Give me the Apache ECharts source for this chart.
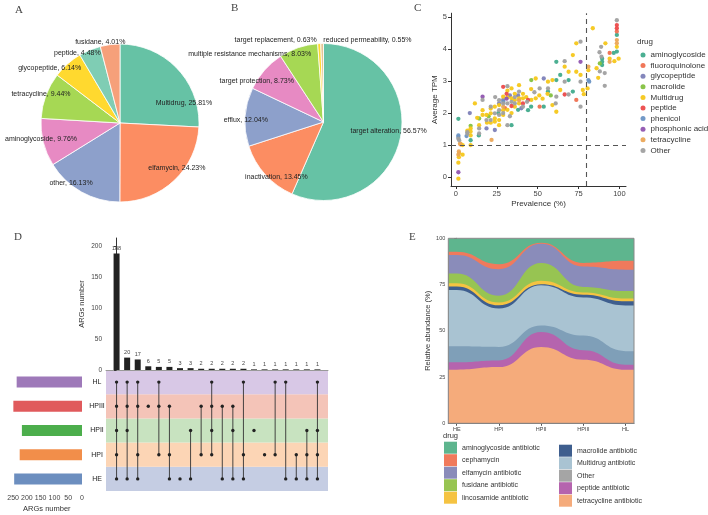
<!DOCTYPE html>
<html><head><meta charset="utf-8">
<script src="https://cdn.jsdelivr.net/npm/echarts@6/dist/echarts.min.js"></script>
<style>html,body{margin:0;padding:0;background:#fff}#c{width:708px;height:515px}</style>
</head><body><div id="c"></div>
<script>
// ---------- Panel A ----------
const pieACats = ['Multidrug','elfamycin','other','aminoglycoside','tetracycline','glycopeptide','peptide','fusidane'];
const pieAValues = [25.81,24.23,16.13,9.76,9.44,6.14,4.48,4.01];
// ---------- Panel B ----------
const pieBCats = ['target alteration','inactivation','efflux','target protection','multiple resistance mechanisms','target replacement','reduced permeability'];
const pieBValues = [56.57,13.45,12.04,8.73,8.03,0.63,0.55];
// ---------- Panel C (prevalence %, average TPM) ----------
const drugCats = ['aminoglycoside','fluoroquinolone','glycopeptide','macrolide','Multidrug','peptide','phenicol','phosphonic acid','tetracycline','Other'];
const aminoglycosidePts = [[1.5,1.82],[9,1.15],[14,1.3],[34,1.62],[44.1,2.09],[53.7,2.2],[56.3,2.67],[61.4,3.6],[61.4,3.03],[63.8,3.19],[68.9,3.03],[71.5,2.67],[89.4,3.7],[89.4,3.6],[89.4,3.5],[96.5,3.88],[98.4,4.44],[98.4,3.92],[46,2.2],[26,2.0],[38,2.1]];
const fluoroquinolonePts = [[2.8,1.02],[51.2,2.2],[73.6,2.41],[94,3.88],[98.4,4.55],[30,2.15]];
const glycopeptidePts = [[8.5,2.0],[18.7,1.52],[23.8,1.47],[28.9,2.41],[53.7,3.08],[26.4,2.3],[33,2.55],[40,2.15],[38,2.55]];
const macrolidePts = [[9,1.6],[14.2,1.83],[46.1,3.03],[58,2.55],[20,1.9],[88,3.55]];
const multidrugPts = [[1.5,-0.05],[1.5,0.45],[1.8,0.62],[2,0.75],[3,1.03],[4.1,1.0],[4.1,0.7],[9,1.0],[9,1.3],[9,1.42],[9,1.52],[11.6,2.3],[14.2,1.62],[16.3,2.09],[16.3,1.94],[18.7,1.94],[21.3,2.14],[21.3,1.99],[21.3,1.7],[23.8,2.2],[23.8,1.83],[23.8,1.73],[26.4,2.25],[26.4,1.78],[26.4,1.62],[28.9,2.51],[28.9,2.09],[28.9,1.94],[31.5,2.49],[31.5,2.1],[34,2.77],[34,2.46],[34,2.0],[36,2.41],[36,2.2],[36,2.6],[38.6,2.87],[38.6,2.46],[38.6,2.3],[41,2.46],[41,2.6],[43,2.5],[46.1,2.41],[48.8,3.08],[48.8,2.46],[51,2.55],[56.3,2.98],[59,3.03],[59,2.25],[61.4,2.04],[63.8,2.72],[66.5,3.45],[68.9,3.29],[71.5,3.81],[73.6,4.18],[73.6,3.29],[76.2,3.19],[77.6,2.72],[78.2,2.59],[80.5,2.77],[81,3.34],[83.7,4.65],[86,3.4],[87,3.1],[91.4,4.18],[94,3.7],[96.9,3.62],[98.4,4.07],[99.5,3.7],[56,2.6],[46,2.75],[53,2.45],[31.5,2.7],[19,1.7],[13,1.85],[7,1.45]];
const peptidePts = [[28.9,2.82],[34,2.22],[41,2.3],[44.1,2.41],[66.5,2.58],[98.4,4.75],[98.4,4.65],[31,2.6]];
const phenicolPts = [[1.5,1.25],[1.5,1.3],[6.5,1.28],[81,3.03],[81.5,2.98],[29,2.35]];
const phosphonicPts = [[1.5,0.15],[16.3,2.51],[76.2,3.6],[31,2.45]];
const tetracyclinePts = [[1.8,0.8],[2.5,1.05],[1.5,0.7],[21.8,1.16],[81,3.45],[98.4,4.28],[98.4,4.18],[28.9,2.2],[38.6,2.4],[94,3.6]];
const otherPts = [[1.5,1.2],[2,1.15],[7,1.35],[7,1.4],[14.2,1.52],[14.2,1.36],[16.3,2.41],[18.7,1.78],[21.3,1.78],[23.8,1.99],[26.4,2.09],[26.4,1.94],[28.9,2.3],[31.5,2.84],[31.5,2.3],[31.5,1.62],[34,2.35],[36,2.3],[38.6,2.67],[41,2.2],[43.5,2.35],[51.2,2.77],[56.3,2.77],[61.4,2.51],[66.5,3.62],[66.5,2.98],[68.9,2.58],[76.2,4.23],[76.2,2.98],[76.2,2.2],[88.8,4.07],[87.8,3.9],[89,3.76],[88,3.3],[91,3.25],[91,2.85],[98.4,4.9],[26.4,2.4],[36,2.5],[48,2.65],[28.9,2.0],[21.3,2.2],[33,1.9],[24,2.5],[61,2.3]];
const prevTicks = [0,25,50,75,100];
const tpmTicks = [0,1,2,3,4,5];
const prevCut = 80, tpmCut = 1;
// ---------- Panel D ----------
const setNames = ['HE','HPI','HPII','HPIII','HL'];
const setSizes = [246,226,218,249,237];
const interSizes = [188,20,17,6,5,5,3,3,2,2,2,2,2,1,1,1,1,1,1,1];
const interMembers = [
 ['HL','HPIII','HPII','HPI','HE'],['HL','HPIII','HPII','HE'],['HL','HPIII','HPI','HE'],['HPIII'],
 ['HL','HPIII','HPI'],['HPIII','HPI','HE'],['HE'],['HPII','HE'],['HPIII','HPI'],['HL','HPIII','HPII','HPI'],
 ['HPIII','HE'],['HPIII','HPII','HE'],['HL','HPI','HE'],['HPII'],['HPI'],['HL','HPI'],['HL','HE'],
 ['HPI','HE'],['HPII','HPI','HE'],['HL','HPII','HPI','HE']];
const interTicks = [0,50,100,150,200];
const setTicks = [0,50,100,150,200,250];
// ---------- Panel E (relative abundance %, HE..HL) ----------
const stageCats = ['HE','HPI','HPII','HPIII','HL'];
const tetracyclineAb = [29,30.4,41.3,34.4,29];
const peptideAb = [4,3.6,8,5.1,2.7];
const otherAb = [8.6,7.3,3.6,7.9,7.3];
const multidrugAb = [30.4,20.7,21.7,20.6,24.7];
const macrolideAb = [2,1.8,0.5,1.5,2.3];
const lincosamideAb = [1.7,1.5,1.9,1.2,1.4];
const fusidaneAb = [5.3,3.7,9.6,3,4.1];
const elfamycinAb = [10,14.3,10.4,11,11.5];
const cephamycinAb = [1.7,2.7,0.6,2,4.8];
const aminoglycosideAb = [7.3,14,2.4,13.3,12.2];
const abTicks = [0,25,50,75,100];

// ================= styling =================
const FONT = '"Liberation Sans", Arial, sans-serif';
const chart = echarts.init(document.getElementById('c'), null, {renderer:'canvas', width:708, height:515});
const colA = ['#66c2a5','#fc8d62','#8da0cb','#e78ac3','#a6d854','#ffd92f','#7fcdb4','#f6a07a'];
const colB = ['#66c2a5','#fc8d62','#8da0cb','#e78ac3','#a6d854','#ffd92f','#e5c494'];
const labOffA = [[0.81,-0.25],[0.72,0.57],[-0.62,0.76],[-1.0,0.2],[-1.0,-0.37],[-0.89,-0.70],[-0.54,-0.89],[-0.25,-1.03]];
const labOffB = [[0.83,0.11],[-0.6,0.7],[-0.99,-0.03],[-0.85,-0.52],[-0.94,-0.87],[-0.61,-1.04],[0.56,-1.04]];
const pA = {cx:120, cy:123, r:79};
const pB = {cx:323.5, cy:122, r:78.5};
const drugColors = ['#41ab8c','#ef7050','#7d81b8','#84c140','#f6c71a','#ec4a4a','#6a94c4','#9055b0','#eba657','#a0a0a0'];
const drugPts = [aminoglycosidePts,fluoroquinolonePts,glycopeptidePts,macrolidePts,multidrugPts,peptidePts,phenicolPts,phosphonicPts,tetracyclinePts,otherPts];
const setBarColors = ['#6c8ebf','#f28e4a','#4cae4c','#e05a5c','#9e79b9'];
const bandColors = ['#c5cde3','#fcd5b5','#c8e3c0','#f4c4b8','#d8c8e6'];
const abNames = ['tetracycline antibiotic','peptide antibiotic','Other','Multidrug antibiotic','macrolide antibiotic','lincosamide antibiotic','fusidane antibiotic','elfamycin antibiotic','cephamycin','aminoglycoside antibiotic'];
const abData = [tetracyclineAb,peptideAb,otherAb,multidrugAb,macrolideAb,lincosamideAb,fusidaneAb,elfamycinAb,cephamycinAb,aminoglycosideAb];
const abColors = ['#f5ab7b','#b564ae','#7f9fb8','#a9c3d2','#3e5e8e','#f5c342','#97c452','#8a8cba','#f07a5c','#5eb58e'];

function pieSeries(cats, vals, cols, p, offs){
  return {
    type:'pie', center:[p.cx,p.cy], radius:[0,p.r], startAngle:90, clockwise:true,
    avoidLabelOverlap:false, silent:true,
    data: cats.map((n,i)=>({name:n, value:vals[i], itemStyle:{color:cols[i]}})),
    itemStyle:{borderColor:'#fff', borderWidth:0.8},
    label:{show:true, position:'inside', formatter:'{b}, {c}%', fontSize:7, color:'#222', fontFamily:FONT},
    labelLine:{show:false},
    labelLayout:function(params){
      const o = offs[params.dataIndex];
      return {x:p.cx+o[0]*p.r, y:p.cy+o[1]*p.r, align:'center', verticalAlign:'middle'};
    }
  };
}

const axisTxt = {fontSize:7, color:'#444', fontFamily:FONT};
const series = [];
series.push(pieSeries(pieACats,pieAValues,colA,pA,labOffA));
series.push(pieSeries(pieBCats,pieBValues,colB,pB,labOffB));
drugCats.forEach((d,i)=>{
  const s = {type:'scatter', name:d, xAxisIndex:0, yAxisIndex:0, symbolSize:4.3, data:drugPts[i], itemStyle:{color:drugColors[i], opacity:0.95}, silent:true, z:3};
  if(i===0){
    s.markLine = {silent:true, symbol:'none', label:{show:false}, lineStyle:{type:[5,4], color:'#555', width:1.1},
      data:[{xAxis:prevCut},{yAxis:tpmCut}]};
  }
  series.push(s);
});
// Panel D: intersection bars
series.push({type:'bar', xAxisIndex:1, yAxisIndex:1, barWidth:6, silent:true,
  data: interSizes.map((v,i)=>[i,v]), itemStyle:{color:'#222'},
  label:{show:true, position:'top', distance:2, fontSize:5.5, color:'#444', fontFamily:FONT, formatter:p=>p.value[1]}});
// matrix
series.push({type:'custom', xAxisIndex:2, yAxisIndex:2, silent:true,
  data: interSizes.map((v,i)=>[i, 0]),
  renderItem:function(params, api){
    const i = api.value(0);
    const rows = interMembers[i].map(n=>setNames.indexOf(n));
    const lo = Math.min(...rows), hi = Math.max(...rows);
    const a = api.coord([i, lo]), b = api.coord([i, hi]);
    const ch = [{type:'line', shape:{x1:a[0],y1:a[1],x2:b[0],y2:b[1]}, style:{stroke:'#333', lineWidth:0.9}}];
    rows.forEach(r=>{const p = api.coord([i,r]); ch.push({type:'circle', shape:{cx:p[0],cy:p[1],r:1.7}, style:{fill:'#222'}});});
    return {type:'group', children:ch};
  }});
// set sizes
series.push({type:'bar', xAxisIndex:3, yAxisIndex:3, barWidth:11, silent:true,
  data: setSizes.map((v,i)=>({value:v, itemStyle:{color:setBarColors[i]}}))});
// Panel E stacked areas: cumulative tops, drawn from the top layer down so lower layers paint over
const cum = [];
abData.forEach((v,k)=>{ cum.push(v.map((y,i)=> y + (k ? cum[k-1][i] : 0))); });
for(let k=abNames.length-1;k>=0;k--){
  const v = cum[k];
  const d = [[-0.2, v[0]]].concat(v.map((y,i)=>[i,y])).concat([[4.2, v[4]]]);
  series.push({type:'line', name:abNames[k], xAxisIndex:4, yAxisIndex:4, smooth:0.5, smoothMonotone:'x', symbol:'none', silent:true,
    data:d, color:abColors[k], lineStyle:{width:0}, areaStyle:{color:abColors[k], opacity:1, origin:'start'}, z:2});
}

const option = {
  animation:false,
  textStyle:{fontFamily:FONT},
  grid:[
    {left:451, top:13.2, width:175, height:172.8},
    {left:106, top:238, width:222, height:132},
    {left:106, top:370, width:222, height:121},
    {left:11.7, top:370, width:70.3, height:121},
    {left:448.3, top:238.3, width:185.7, height:185, show:true, borderColor:'#888', borderWidth:1, backgroundColor:'transparent', z:5}
  ],
  xAxis:[
    {gridIndex:0, type:'value', min:-3, max:104, splitLine:{show:false},
      axisLine:{onZero:false, lineStyle:{color:'#333'}}, axisTick:{customValues:prevTicks, length:3, lineStyle:{color:'#333'}},
      axisLabel:Object.assign({customValues:prevTicks, margin:4}, axisTxt, {fontSize:7.5}),
      name:'Prevalence (%)', nameLocation:'middle', nameGap:14, nameTextStyle:{fontSize:8, color:'#333'}},
    {gridIndex:1, type:'value', min:-1, max:20, splitLine:{show:false}, axisLine:{onZero:false, lineStyle:{color:'#999'}},
      axisTick:{show:false}, axisLabel:{show:false}},
    {gridIndex:2, type:'value', min:-1, max:20, show:false, splitLine:{show:false}},
    {gridIndex:3, type:'value', inverse:true, min:0, max:255, splitLine:{show:false},
      axisLine:{onZero:false, lineStyle:{color:'#555'}}, axisTick:{customValues:setTicks, length:2.5, lineStyle:{color:'#555'}},
      axisLabel:Object.assign({customValues:setTicks, margin:4}, axisTxt),
      name:'ARGs number', nameLocation:'middle', nameGap:14, nameTextStyle:{fontSize:7.5, color:'#333'}},
    {gridIndex:4, type:'value', min:-0.2, max:4.2, splitLine:{show:false},
      axisLine:{onZero:false, lineStyle:{color:'#555'}}, axisTick:{customValues:[0,1,2,3,4], length:2.5, lineStyle:{color:'#555'}},
      axisLabel:Object.assign({customValues:[0,1,2,3,4], margin:3, formatter:v=>stageCats[Math.round(v)]}, axisTxt, {fontSize:5.5})}
  ],
  yAxis:[
    {gridIndex:0, type:'value', min:-0.28, max:5.12, splitLine:{show:false},
      axisLine:{onZero:false, lineStyle:{color:'#333'}}, axisTick:{customValues:tpmTicks, length:3, lineStyle:{color:'#333'}},
      axisLabel:Object.assign({customValues:tpmTicks, margin:4}, axisTxt, {fontSize:7.5}),
      name:'Average TPM', nameLocation:'middle', nameGap:12, nameTextStyle:{fontSize:8, color:'#333'}},
    {gridIndex:1, type:'value', min:0, max:213, splitLine:{show:false},
      axisLine:{show:true, lineStyle:{color:'#333'}}, axisTick:{show:true, customValues:interTicks, length:2.5, lineStyle:{color:'#333'}},
      axisLabel:Object.assign({customValues:interTicks, margin:4}, axisTxt, {fontSize:6.5}),
      name:'ARGs number', nameLocation:'middle', nameGap:20, nameTextStyle:{fontSize:7.5, color:'#333'}},
    {gridIndex:2, type:'category', data:setNames, axisLine:{show:false}, axisTick:{show:false},
      splitArea:{show:true, areaStyle:{color:bandColors}}, splitLine:{show:false},
      axisLabel:{fontSize:7, color:'#222', align:'center', margin:9, fontFamily:FONT}},
    {gridIndex:3, type:'category', data:setNames, show:false},
    {gridIndex:4, type:'value', min:0, max:100, splitLine:{show:false},
      axisLine:{show:true, lineStyle:{color:'#555'}}, axisTick:{show:true, customValues:abTicks, length:2.5, lineStyle:{color:'#555'}},
      axisLabel:Object.assign({customValues:abTicks, margin:3}, axisTxt, {fontSize:5.5}),
      name:'Relative abundance (%)', nameLocation:'middle', nameGap:16, nameTextStyle:{fontSize:7.5, color:'#333'}}
  ],
  legend:[
    {data:drugCats, orient:'vertical', left:640.5, top:51, padding:0, icon:'circle', itemWidth:5, itemHeight:5, itemGap:2.6,
      selectedMode:false, textStyle:{fontSize:8, color:'#333', lineHeight:8, fontFamily:FONT}},
    {data:['aminoglycoside antibiotic','cephamycin','elfamycin antibiotic','fusidane antibiotic','lincosamide antibiotic'], orient:'vertical', left:444, top:441.7, padding:0, icon:'rect', itemWidth:13, itemHeight:12, itemGap:0.5,
      selectedMode:false, textStyle:{fontSize:7, color:'#333', lineHeight:12, fontFamily:FONT}},
    {data:['macrolide antibiotic','Multidrug antibiotic','Other','peptide antibiotic','tetracycline antibiotic'], orient:'vertical', left:559, top:444.7, padding:0, icon:'rect', itemWidth:13, itemHeight:12, itemGap:0.5,
      selectedMode:false, textStyle:{fontSize:7, color:'#333', lineHeight:12, fontFamily:FONT}}
  ],
  graphic:[
    {type:'text', left:15, top:5, style:{text:'A', font:'11px "Liberation Serif", serif', fill:'#444'}},
    {type:'text', left:231, top:3, style:{text:'B', font:'11px "Liberation Serif", serif', fill:'#444'}},
    {type:'text', left:414, top:3, style:{text:'C', font:'11px "Liberation Serif", serif', fill:'#444'}},
    {type:'text', left:14, top:232, style:{text:'D', font:'11px "Liberation Serif", serif', fill:'#444'}},
    {type:'text', left:409, top:232, style:{text:'E', font:'11px "Liberation Serif", serif', fill:'#444'}},
    {type:'text', left:637, top:38, style:{text:'drug', font:'8px "Liberation Sans", Arial', fill:'#333'}},
    {type:'text', left:443, top:432, style:{text:'drug', font:'7.5px "Liberation Sans", Arial', fill:'#333'}}
  ],
  series:series
};
chart.setOption(option);
</script></body></html>
